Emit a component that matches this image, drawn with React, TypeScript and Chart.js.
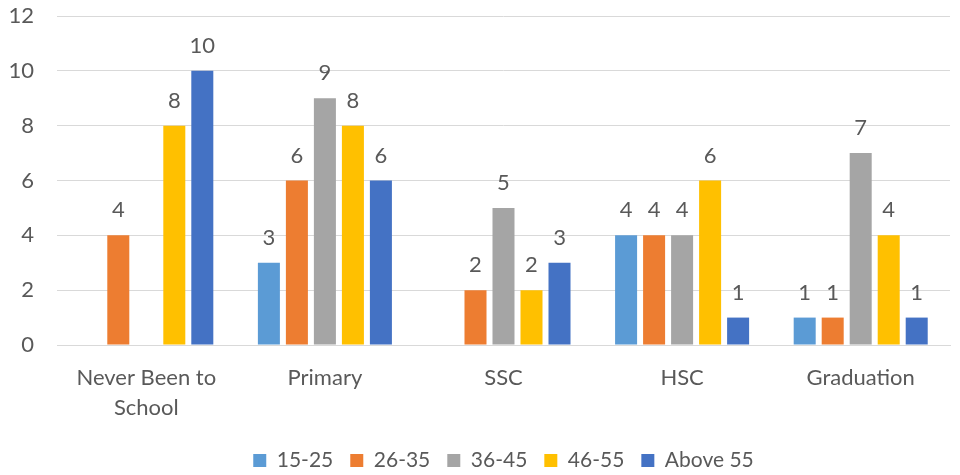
import React, { useEffect, useRef } from "react";
import { Chart, registerables } from "chart.js";

Chart.register(...registerables);

const categories: (string | string[])[] = [["Never Been to", "School"], "Primary", "SSC", "HSC", "Graduation"];
const seriesNames = ["15-25", "26-35", "36-45", "46-55", "Above 55"];
const seriesColors = ["#5B9BD5", "#ED7D31", "#A5A5A5", "#FFC000", "#4472C4"];
const age15_25: (number | null)[] = [null, 3, null, 4, 1];
const age26_35: (number | null)[] = [4, 6, 2, 4, 1];
const age36_45: (number | null)[] = [null, 9, 5, 4, 7];
const age46_55: (number | null)[] = [8, 8, 2, 6, 4];
const ageAbove55: (number | null)[] = [10, 6, 3, 1, 1];
const seriesValues = [age15_25, age26_35, age36_45, age46_55, ageAbove55];
const yTicks = { min: 0, max: 12, step: 2 };

const FONT = "Lato, 'Open Sans', sans-serif";
const TEXT = "#595959";

const dataLabelPlugin = {
  id: "dataLabels",
  afterDatasetsDraw(chart: any) {
    const ctx = chart.ctx;
    ctx.save();
    ctx.font = `22px ${FONT}`;
    ctx.fillStyle = TEXT;
    ctx.textAlign = "center";
    ctx.textBaseline = "middle";
    chart.data.datasets.forEach((ds: any, i: number) => {
      const meta = chart.getDatasetMeta(i);
      meta.data.forEach((bar: any, j: number) => {
        const v = ds.data[j];
        if (v === null || v === undefined) return;
        ctx.fillText(String(v), bar.x, bar.y - 25);
      });
    });
    ctx.restore();
  },
};

export default function App() {
  const ref = useRef<HTMLCanvasElement | null>(null);
  useEffect(() => {
    if (!ref.current) return;
    const chart = new Chart(ref.current, {
      type: "bar",
      data: {
        labels: categories,
        datasets: seriesNames.map((name, i) => ({
          label: name,
          data: seriesValues[i],
          backgroundColor: seriesColors[i],
          borderWidth: 0,
          barPercentage: 0.786,
          categoryPercentage: 0.784,
        })),
      },
      options: {
        animation: false,
        responsive: false,
        maintainAspectRatio: false,
        layout: { padding: { left: 0, right: 10, top: 16, bottom: -6 } },
        plugins: {
          tooltip: { enabled: false },
          legend: {
            position: "bottom",
            fullSize: false,
            labels: {
              boxWidth: 13,
              boxHeight: 13,
              padding: 17,
              color: TEXT,
              font: { family: FONT, size: 21 },
            },
          },
        },
        scales: {
          x: {
            grid: { display: false },
            border: { color: "#D9D9D9", width: 1 },
            ticks: {
              color: TEXT,
              font: { family: FONT, size: 22, lineHeight: 1.35 },
              padding: 10,
              maxRotation: 0,
              autoSkip: false,
            },
            afterFit: (s: any) => {
              s.height = 88;
              s.paddingLeft = 0;
              s.paddingRight = 0;
            },
          },
          y: {
            min: yTicks.min,
            max: yTicks.max,
            ticks: {
              stepSize: yTicks.step,
              color: TEXT,
              font: { family: FONT, size: 22 },
              padding: 23,
            },
            grid: { color: "#D9D9D9", lineWidth: 1, drawTicks: false },
            border: { display: false },
            afterFit: (s: any) => {
              s.width = 57;
              s.paddingTop = 0;
              s.paddingBottom = 0;
            },
          },
        },
      },
      plugins: [dataLabelPlugin],
    });
    return () => chart.destroy();
  }, []);
  return (
    <div style={{ position: "fixed", left: 0, top: 0, width: 960, height: 475, background: "#fff" }}>
      <canvas ref={ref} width={960} height={475} style={{ width: 960, height: 475 }} />
    </div>
  );
}
